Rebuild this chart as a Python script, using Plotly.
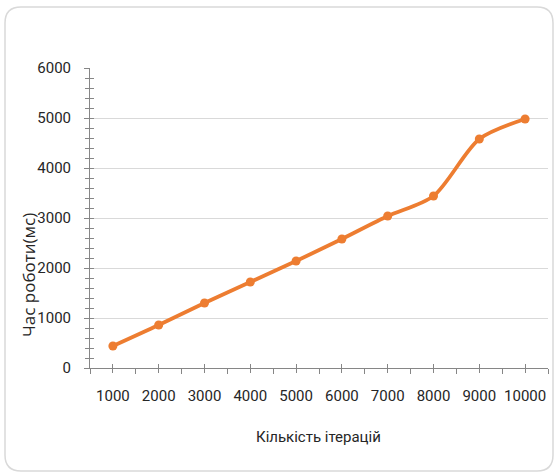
import plotly.graph_objects as go

# iteration counts and measured run time (ms)
iterations = ["1000", "2000", "3000", "4000", "5000", "6000", "7000", "8000", "9000", "10000"]
run_time_ms = [440, 860, 1300, 1720, 2140, 2580, 3040, 3440, 4580, 4980]

W, H = 557, 474
L, R, T, B = 90, 9, 68, 106
pw, ph = W - L - R, H - T - B

ORANGE = "#ED7D31"
AXIS = "#868686"
TXT = "#262626"
TICK_FONT = "Roboto, Liberation Sans, sans-serif"
n = len(iterations)

fig = go.Figure()
fig.add_trace(go.Scatter(
    x=iterations, y=run_time_ms,
    mode="lines+markers",
    line=dict(color=ORANGE, width=3.8, shape="spline", smoothing=0.8),
    marker=dict(symbol="circle", size=9, color=ORANGE),
    showlegend=False,
))
# empty traces so the overlay axes carrying the extra tick marks are drawn
for ax in ("x2", "x3"):
    fig.add_trace(go.Scatter(x=[], y=[], xaxis=ax, yaxis="y", showlegend=False, hoverinfo="skip"))
fig.add_trace(go.Scatter(x=[], y=[], xaxis="x", yaxis="y2", showlegend=False, hoverinfo="skip"))


def px_x(v):
    return (v - L) / pw


def px_y(v):
    return (H - B - v) / ph


# rounded frame around the chart area
x0, x1, y0, y1, r = 5, 553, 7, 471, 16
path = (
    f"M {px_x(x0 + r)},{px_y(y0)} L {px_x(x1 - r)},{px_y(y0)} "
    f"Q {px_x(x1)},{px_y(y0)} {px_x(x1)},{px_y(y0 + r)} "
    f"L {px_x(x1)},{px_y(y1 - r)} Q {px_x(x1)},{px_y(y1)} {px_x(x1 - r)},{px_y(y1)} "
    f"L {px_x(x0 + r)},{px_y(y1)} Q {px_x(x0)},{px_y(y1)} {px_x(x0)},{px_y(y1 - r)} "
    f"L {px_x(x0)},{px_y(y0 + r)} Q {px_x(x0)},{px_y(y0)} {px_x(x0 + r)},{px_y(y0)} Z"
)
fig.add_shape(type="path", path=path, xref="paper", yref="paper",
              line=dict(color="#D9D9D9", width=1.5), layer="below")

# axis titles
fig.add_annotation(text="Кількість ітерацій", xref="paper", yref="paper",
                   x=px_x(318), y=px_y(437), xanchor="center", yanchor="middle",
                   showarrow=False, font=dict(family=TICK_FONT, size=15, color=TXT))
fig.add_annotation(text="Час роботи(мс)", xref="paper", yref="paper",
                   x=px_x(28), y=px_y(275), xanchor="center", yanchor="middle",
                   showarrow=False, textangle=-90,
                   font=dict(family="Open Sans, sans-serif", size=17, color=TXT))

tickfont = dict(family=TICK_FONT, size=15, color=TXT)
fig.update_layout(
    width=W, height=H,
    margin=dict(l=L, r=R, t=T, b=B),
    paper_bgcolor="white", plot_bgcolor="white",
    font=dict(family=TICK_FONT, size=15, color=TXT),
    xaxis=dict(
        type="category",
        range=[-0.5, n - 0.5],
        automargin=False,
        tickangle=0,
        showgrid=False,
        showline=True, linecolor=AXIS, linewidth=1,
        ticks="outside", tickson="boundaries", ticklen=5, tickcolor=AXIS,
        ticklabelstandoff=14,
        tickfont=tickfont,
    ),
    # tick marks at category centres, crossing the axis line
    xaxis2=dict(
        overlaying="x", anchor="y", side="bottom",
        range=[-0.5, n - 0.5], tickvals=list(range(n)),
        showticklabels=False, showgrid=False, zeroline=False, showline=False,
        ticks="inside", ticklen=4, tickcolor=AXIS,
    ),
    xaxis3=dict(
        overlaying="x", anchor="y", side="bottom",
        range=[-0.5, n - 0.5], tickvals=list(range(n)),
        showticklabels=False, showgrid=False, zeroline=False, showline=False,
        ticks="outside", ticklen=4, tickcolor=AXIS,
    ),
    yaxis=dict(
        range=[0, 6000],
        dtick=1000,
        automargin=False,
        showgrid=True, gridcolor="#D9D9D9", gridwidth=1,
        zeroline=False,
        showline=True, linecolor=AXIS, linewidth=1,
        ticks="outside", ticklen=5, tickcolor=AXIS,
        ticklabelstandoff=10,
        minor=dict(dtick=200, ticks="outside", ticklen=4, tickcolor=AXIS, showgrid=False),
        tickfont=tickfont,
    ),
    # inner half of the crossing tick marks on the value axis
    yaxis2=dict(
        overlaying="y", anchor="x", side="left",
        range=[0, 6000], dtick=1000,
        showticklabels=False, showgrid=False, zeroline=False, showline=False,
        ticks="inside", ticklen=4, tickcolor=AXIS,
        minor=dict(dtick=200, ticks="inside", ticklen=4, tickcolor=AXIS, showgrid=False),
    ),
)

fig.write_html("out.html")
